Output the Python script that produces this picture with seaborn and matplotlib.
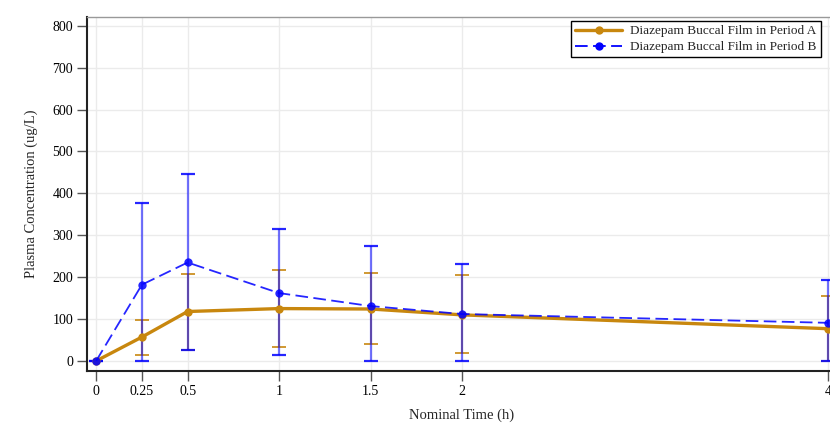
import matplotlib
matplotlib.use("Agg")
import matplotlib.pyplot as plt
import seaborn as sns
import pandas as pd
import numpy as np
from matplotlib.lines import Line2D

times = [0, 0.25, 0.5, 1, 1.5, 2, 4]
tick_labels = ["0", "0.25", "0.5", "1", "1.5", "2", "4"]
series_a = "Diazepam Buccal Film in Period A"
series_b = "Diazepam Buccal Film in Period B"
mean_a = [0, 57, 118, 125, 124, 110, 77]
low_a = [0, 15, 27, 33, 40, 20, 0]
high_a = [0, 98, 208, 218, 210, 206, 156]
mean_b = [0, 182, 235, 162, 131, 112, 91]
low_b = [0, 0, 26, 13, 0, 0, 0]
high_b = [0, 377, 447, 314, 275, 231, 193]

sns.set_style("white")
plt.rcParams["font.family"] = ["Liberation Serif", "DejaVu Serif"]

col_a = "#C8870E"
col_b = "#0000FF"

df = pd.DataFrame({
    "time": times * 2,
    "conc": mean_a + mean_b,
    "group": [series_a] * len(times) + [series_b] * len(times),
})

fig = plt.figure(figsize=(8.3, 4.25), dpi=100)
ax = fig.add_axes([87 / 830, 54 / 425, 750 / 830, 354 / 425])

ma, mb = np.array(mean_a), np.array(mean_b)
ax.errorbar(times, mean_a, yerr=[ma - np.array(low_a), np.array(high_a) - ma],
            fmt="none", ecolor=col_a, alpha=0.75, elinewidth=1.4, capsize=5, capthick=1.4, zorder=2)
ax.errorbar(times, mean_b, yerr=[mb - np.array(low_b), np.array(high_b) - mb],
            fmt="none", ecolor=col_b, alpha=0.55, elinewidth=1.6, capsize=5, capthick=1.6, zorder=2)

sns.lineplot(data=df, x="time", y="conc", hue="group", style="group",
             palette={series_a: col_a, series_b: col_b},
             dashes={series_a: "", series_b: (7, 3)},
             markers={series_a: "o", series_b: "o"},
             markersize=6, markeredgewidth=0, ax=ax, zorder=3, legend=False)
for ln in ax.get_lines():
    if matplotlib.colors.to_hex(ln.get_color()).lower() == col_a.lower():
        ln.set_linewidth(2.4)
    else:
        ln.set_linewidth(1.3)
        ln.set_alpha(0.85)

ax.set_xlim(-0.05, 4.05)
ax.set_ylim(-24, 821)
ax.set_xticks(times)
ax.set_xticklabels(tick_labels)
ax.set_yticks(range(0, 801, 100))
ax.grid(True, color="#EBEBEB", linewidth=1)
ax.set_axisbelow(True)
for s in ["left", "bottom"]:
    ax.spines[s].set_color("#222222")
    ax.spines[s].set_linewidth(1.5)
for s in ["top", "right"]:
    ax.spines[s].set_color("#999999")
    ax.spines[s].set_linewidth(1)
ax.tick_params(axis="both", direction="out", length=7, width=1, colors="#555555",
               labelcolor="black", labelsize=10, left=True, bottom=True, pad=3)
ax.set_xlabel("Nominal Time (h)", fontsize=10.5, labelpad=8)
ax.set_ylabel("Plasma Concentration (ug/L)", fontsize=10.5, labelpad=10)

handles = [
    Line2D([0], [0], color=col_a, lw=2.4, marker="o", markersize=5),
    Line2D([0], [0], color=col_b, lw=1.3, ls=(0, (7, 3)), marker="o", markersize=5),
]
leg = fig.legend(handles, [series_a, series_b], loc="upper left",
                 bbox_to_anchor=(571 / 830, 1 - 21 / 425), fontsize=9.5,
                 frameon=True, fancybox=False, edgecolor="black", framealpha=1,
                 borderpad=0.3, labelspacing=0.3, handlelength=3.6, handletextpad=0.6,
                 borderaxespad=0)
leg.get_frame().set_linewidth(1)

fig.savefig("out.png", dpi=100)
